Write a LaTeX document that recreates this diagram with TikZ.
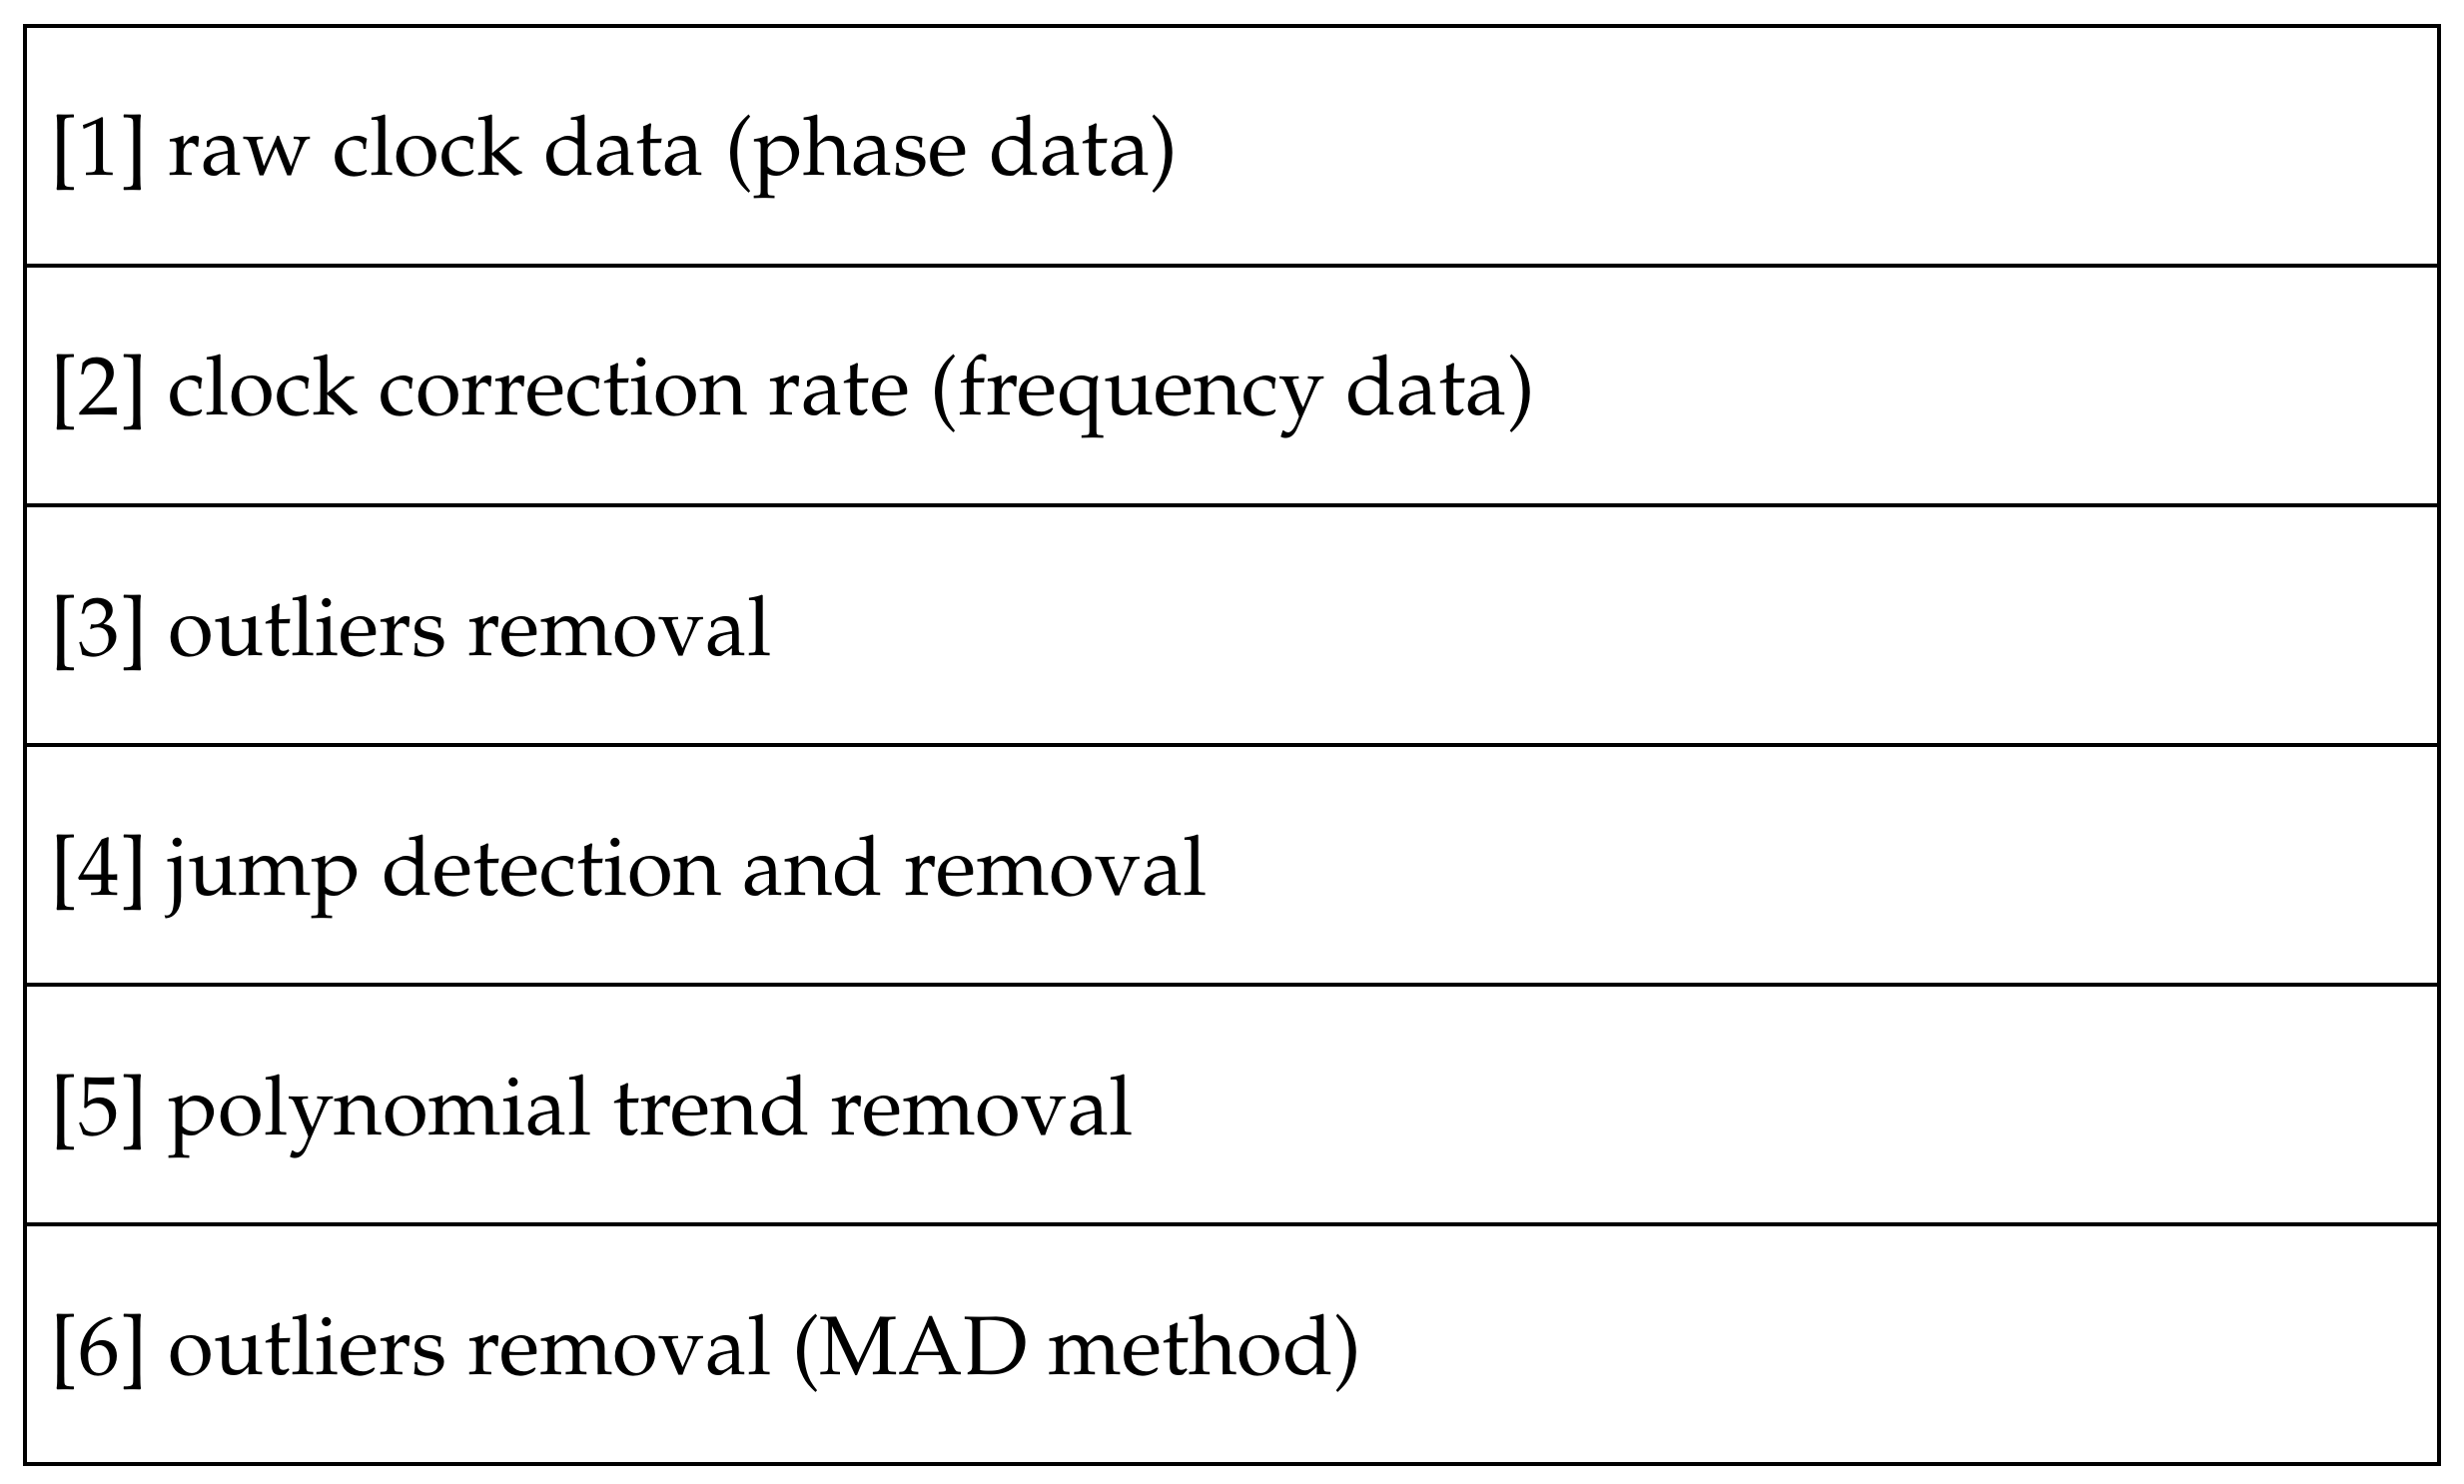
\documentclass[tikz,border=0pt]{standalone}
\usepackage[T1]{fontenc}
\usepackage{mathpazo}
\begin{document}
\begin{tikzpicture}[x=0.1mm,y=-0.1mm,
  rowbox/.style={draw=black,line width=0.4mm,minimum width=241.7mm,minimum height=24mm,inner sep=0pt,anchor=north west},
  rowtext/.style={anchor=base west,inner sep=0pt,font=\fontsize{23.7}{28}\selectfont}]
\useasboundingbox (0,0) rectangle (2467,1486);
\foreach \i/\t in {1/{[1] raw clock data (phase data)},
                   2/{[2] clock correction rate (frequency data)},
                   3/{[3] outliers removal},
                   4/{[4] jump detection and removal},
                   5/{[5] polynomial trend removal},
                   6/{[6] outliers removal (MAD method)}}{
  \node[rowbox] (r\i) at (23,{24+240*(\i-1)}) {};
  \node[rowtext] (t\i) at (50,{24+240*(\i-1)+152}) {\t};
}
\end{tikzpicture}
\end{document}
